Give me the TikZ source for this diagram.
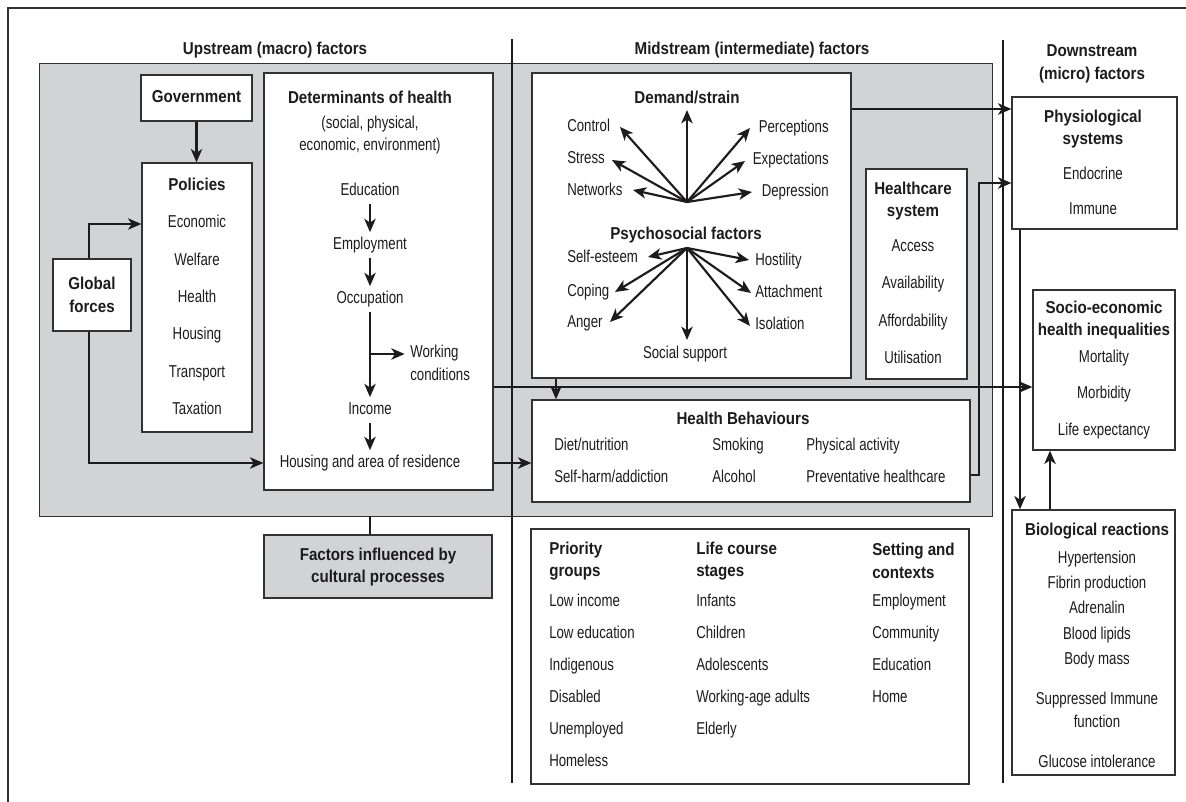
\documentclass[tikz,border=0pt]{standalone}
\usepackage{fontspec}
\setmainfont{Liberation Sans}[FakeStretch=0.77,BoldFeatures={FakeStretch=0.88}]
\usepackage{tikz}
\usetikzlibrary{arrows.meta,fit}

\definecolor{panelgray}{RGB}{209,211,212}
\definecolor{inkc}{RGB}{30,27,28}
\definecolor{linec}{RGB}{50,50,50}
\newcommand{\txtsize}{\fontsize{12.9}{16.8}\selectfont}

\begin{document}
\begin{tikzpicture}[x=0.75pt,y=0.75pt,yscale=-1,xscale=1,
    every node/.style={text=inkc},
    box/.style={draw=linec,line width=0.95pt,fill=white,inner sep=0pt},
    graybox/.style={box,fill=panelgray},
    lbl/.style={font=\txtsize,inner sep=0pt,text height=9.4pt,text depth=2.8pt},
    hd/.style={lbl,font=\txtsize\bfseries},
    ttl/.style={font=\txtsize\bfseries,inner sep=0pt,align=center},
    multi/.style={font=\txtsize,inner sep=0pt,align=center},
    chain/.style={lbl,outer sep=3.5pt},
    conn/.style={draw=inkc,line width=1.6pt},
    arr/.style={conn,-{Stealth[length=10pt,width=8.5pt,inset=2.8pt]}},
    divider/.style={draw=inkc,line width=1.7pt}]

    \useasboundingbox (0,0) rectangle (1186,802);
    % outer frame (cut by the page on two sides)
    \draw[linec,line width=0.8pt] (1186,8) -- (8,8) -- (8,802);

    % grey panel
    \node[graybox,line width=0.6pt,fit={(39,63) (992,516)}] (panel) {};

    % column headings
    \node[hd] (uphd) at (275,50) {Upstream (macro) factors};
    \node[hd] (midhd) at (752,50) {Midstream (intermediate) factors};
    \node[ttl] (downhd) at (1092,64) {Downstream\\(micro) factors};

    %% Upstream
    \node[box,fit={(141,75) (252,121)}] (gov) {};
    \node[hd] at (gov) {Government};

    \node[box,fit={(142,163) (252,432)}] (pol) {};
    \node[hd] (polt) at (197,186) {Policies};
    \foreach \t [count=\i] in {Economic,Welfare,Health,Housing,Transport,Taxation}
        \node[lbl] (pol\i) at (197,{186+37.4*\i}) {\t};

    \node[box,fit={(53,259) (131,331)}] (glob) {};
    \node[ttl] at (glob) {Global\\forces};

    \node[box,fit={(264,73) (493,490)}] (det) {};
    \node[hd] (dett) at (370,99) {Determinants of health};
    \node[multi] (detsub) at (370,135) {(social, physical,\\economic, environment)};
    \node[chain] (edu) at (370,191) {Education};
    \node[chain] (emp) at (370,245) {Employment};
    \node[chain] (occ) at (370,299) {Occupation};
    \node[chain] (inc) at (370,410) {Income};
    \node[chain] (hous) at (370,463) {Housing and area of residence};
    \node[multi,align=left,anchor=west] (wc) at (410,363) {Working\\conditions};
    \coordinate (br) at (370,354);
    \draw[arr] (edu) -- (emp);
    \draw[arr] (emp) -- (occ);
    \draw[arr] (occ) -- (inc);
    \draw[arr] (inc) -- (hous);
    \draw[arr] (br) -- ([xshift=-4pt]wc.west |- br);

    \node[graybox,fit={(264,535) (492,598)}] (fac) {};
    \node[ttl] at (378,567) {Factors influenced by\\cultural processes};

    %% Midstream
    \node[box,fit={(532,73) (851,378)}] (psy) {};
    \node[hd] (dst) at (687,99) {Demand/strain};
    \foreach \t/\y in {Control/127,Stress/159,Networks/191}
        \node[lbl,anchor=west] (ds-\t) at (567,\y) {\t};
    \foreach \t/\y in {Perceptions/128,Expectations/160,Depression/192}
        \node[lbl,anchor=east] (ds-\t) at (829,\y) {\t};
    \coordinate (ds) at (687,202);
    \foreach \n/\x/\y in {a/687/110,b/620/127,c/612/160,d/633/190,e/750/128,f/745/161,g/752/192}{
        \coordinate (dsend-\n) at (\x,\y);
        \draw[arr] (ds) -- (dsend-\n);
    }

    \node[hd] (pst) at (686,235) {Psychosocial factors};
    \foreach \t/\y in {Self-esteem/258,Coping/292,Anger/323}
        \node[lbl,anchor=west] (ps-\t) at (567,\y) {\t};
    \foreach \t/\y in {Hostility/261,Attachment/293,Isolation/325}
        \node[lbl,anchor=west] (ps-\t) at (755,\y) {\t};
    \node[lbl] (ps-social) at (685,354) {Social support};
    \coordinate (ps) at (687,248);
    \foreach \n/\x/\y in {a/648/257,b/749/260,c/615/292,d/610/322,e/687/340,f/751/293,g/750/326}{
        \coordinate (psend-\n) at (\x,\y);
        \draw[arr] (ps) -- (psend-\n);
    }

    \node[box,fit={(866,169) (967,379)}] (hcs) {};
    \node[ttl] (hcst) at (913,201) {Healthcare\\system};
    \foreach \t/\y [count=\i] in {Access/247,Availability/284,Affordability/322,Utilisation/359}
        \node[lbl] (hcs\i) at (913,\y) {\t};

    \node[box,fit={(532,400) (970,502)}] (hb) {};
    \node[hd] (hbt) at (743,420) {Health Behaviours};
    \node[lbl,anchor=west] (hb1) at (554,446) {Diet/nutrition};
    \node[lbl,anchor=west] (hb2) at (712,446) {Smoking};
    \node[lbl,anchor=west] (hb3) at (806,446) {Physical activity};
    \node[lbl,anchor=west] (hb4) at (554,478) {Self-harm/addiction};
    \node[lbl,anchor=west] (hb5) at (712,478) {Alcohol};
    \node[lbl,anchor=west] (hb6) at (806,478) {Preventative healthcare};

    % bottom table
    \node[box,fit={(531,529) (969,784)}] (tab) {};
    \node[ttl,align=left,anchor=west] (tabh1) at (549,561) {Priority\\groups};
    \node[ttl,align=left,anchor=west] (tabh2) at (696,561) {Life course\\stages};
    \node[ttl,align=left,anchor=west] (tabh3) at (872,561) {Setting and\\contexts};
    \foreach \t [count=\i] in {Low income,Low education,Indigenous,Disabled,Unemployed,Homeless}
        \node[lbl,anchor=west] (pg\i) at (549,{570+32*\i}) {\t};
    \foreach \t [count=\i] in {Infants,Children,Adolescents,Working-age adults,Elderly}
        \node[lbl,anchor=west] (lc\i) at (696,{570+32*\i}) {\t};
    \foreach \t [count=\i] in {Employment,Community,Education,Home}
        \node[lbl,anchor=west] (sc\i) at (872,{570+32*\i}) {\t};

    %% Downstream
    \node[box,fit={(1012,97) (1177,229)}] (phys) {};
    \node[ttl] (physt) at (1093,129) {Physiological\\systems};
    \node[lbl] (phys1) at (1093,175) {Endocrine};
    \node[lbl] (phys2) at (1093,210) {Immune};

    \node[box,fit={(1033,290) (1175,450)}] (soc) {};
    \node[ttl] (soct) at (1104,320) {Socio-economic\\health inequalities};
    \node[lbl] (soc1) at (1104,358) {Mortality};
    \node[lbl] (soc2) at (1104,394) {Morbidity};
    \node[lbl] (soc3) at (1104,431) {Life expectancy};

    \node[box,fit={(1012,510) (1175,775)}] (bio) {};
    \node[hd] (biot) at (1097,531) {Biological reactions};
    \foreach \t/\y [count=\i] in {Hypertension/559,Fibrin production/584,Adrenalin/609,Blood lipids/635,Body mass/660,Glucose intolerance/763}
        \node[lbl] (bio\i) at (1097,\y) {\t};
    \node[multi] (bio7) at (1097,710) {Suppressed Immune\\function};

    %% connectors
    \draw[arr] (gov.south) -- (gov.south |- pol.north);
    \draw[arr] (glob.north -| 89,0) |- (pol.west |- 0,224);
    \draw[arr] (glob.south -| 89,0) |- (det.west |- hous);
    \draw[conn] (panel.south -| 370,0) -- (fac.north -| 370,0);
    \draw[arr] (det.east |- hous) -- (hb.west |- hous);
    \draw[arr] (det.east |- 0,387) -- (soc.west |- 0,387);
    \draw[arr] (psy.south -| 556,0) -- (hb.north -| 556,0);
    \draw[arr] (psy.east |- 0,109) -- (phys.west |- 0,109);
    \draw[arr] (hb.east |- 0,475) -| (979,183) -- (phys.west |- 0,183);
    \draw[arr] (phys.south -| 1020,0) -- (bio.north -| 1020,0);
    \draw[arr] (bio.north -| 1050,0) -- (soc.south -| 1050,0);

    % stream dividers
    \draw[divider] (512,39) -- (512,783);
    \draw[divider] (1003,40) -- (1003,783);
\end{tikzpicture}
\end{document}
